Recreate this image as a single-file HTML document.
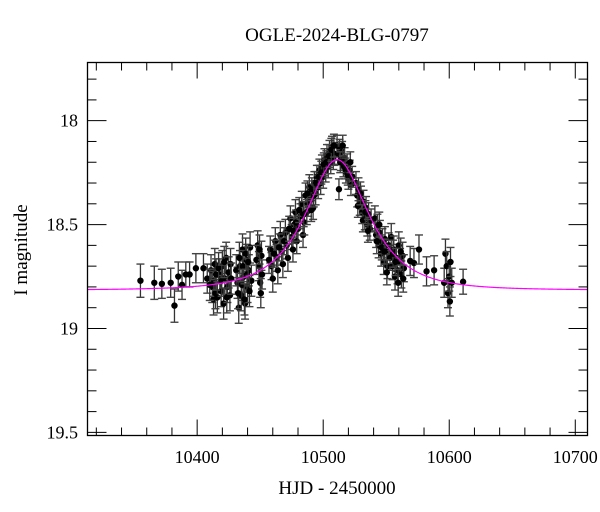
<!DOCTYPE html>
<html><head><meta charset="utf-8"><style>
html,body{margin:0;padding:0;background:#fff;}
svg{display:block;font-family:"Liberation Serif",serif;}
</style></head><body>
<svg id="chart" width="600" height="512" viewBox="0 0 600 512">
<text x="337" y="41" font-size="19" text-anchor="middle">OGLE-2024-BLG-0797</text>
<g id="plot"></g>
<text x="337" y="494" font-size="19" text-anchor="middle">HJD - 2450000</text>
<text x="0" y="0" font-size="19" text-anchor="middle" transform="translate(27,250) rotate(-90)">I magnitude</text>
</svg>
<script>
const times = [
10355,10366,10372,10379,10382,10385,10388,10391,10394,10399,10405,10408,
10411,10412,10413,10413.5,10414,10414.5,
10418,10419,10420,10421,10422,10423,10424,10425,10426,10426.5,
10432,10433,10434,10435,10436,10437,10438,10439,10440,10441,10442,10443,
10448,10449,10450,10451,10450.5,
10458,10459,10460,10462,10463,10464,10466,10467,10468,10470,10471,10472,
10474,10475,10476,10477,10478,10479,10480,10482,10483,10484,10485,10486,10487,10488,10489,
10490,10491,10492,10493,10494,10495,10496,10497,10498,10499,10500,10501,10502,10503,10504,10505,10506,10507,10508,10509,
10511,10512,10512.5,10513,10514,10515,10516,10517,10518,10519,10520,10521,10522,10523,
10526,10527,10528,10529,10530,10531,10532,10533,10534,10535,10536,10537,10538,
10541,10542,10543,10544,10545,10546,10547,10548,10549,10550,10551,10552,10553,
10554,10555,10556,10557,10558,10559,10560,10561,10562,10563,10564,
10569,10572,10576,10582,10588,
10596,10597,10598,10599,10600,10600.5,10601,10602,
10611,
10410,10415,10416,10417,10419.5,10421.5,10423.5,10427,10431,10432.5,
10433.5,10435.5,10436.5,10437.5,10438.5,10439.5,10440.5,10441.5,10447,10449.5,
10451.5,10457,10461,10465,10469,10473,10476.5,10478.5,10481,10484.5,
10487.5,10490.5,10492.5,10494.5,10496.5,10498.5,10500.5,10502.5,10504.5,10506.5,
10508.5,10513.5,10515.5,10517.5,10519.5,10521.5,10527.5,10529.5,10531.5,10533.5,
10535.5,10542.5,10544.5,10546.5,10548.5,10550.5,10555.5,10557.5,10559.5,10561.5,
10563.5];
const mags = [
18.77,18.78,18.785,18.78,18.89,18.75,18.79,18.74,18.74,18.71,18.71,18.76,
18.72,18.80,18.86,18.77,18.69,18.83,
18.74,18.82,18.70,18.88,18.76,18.66,18.80,18.73,18.84,18.69,
18.78,18.90,18.70,18.84,18.62,18.75,18.88,18.67,18.80,18.72,18.61,18.77,
18.60,18.70,18.78,18.65,18.83,
18.62,18.70,18.76,18.58,18.66,18.72,18.55,18.63,18.69,18.54,18.60,18.66,
18.47,18.56,18.62,18.50,18.44,18.58,18.52,18.46,18.40,18.55,18.49,18.36,18.44,18.40,18.32,
18.38,18.33,18.42,18.30,18.35,18.27,18.32,18.24,18.30,18.22,18.27,18.19,18.24,18.17,18.22,18.15,18.20,18.13,18.18,18.16,
18.12,18.16,18.33,18.14,18.19,18.15,18.22,18.18,18.25,18.21,18.28,18.24,18.31,18.27,
18.30,18.36,18.33,18.40,18.37,18.44,18.39,18.47,18.42,18.50,18.45,18.52,18.48,
18.47,18.55,18.51,18.60,18.54,18.64,18.58,18.68,18.57,18.63,18.70,18.60,18.66,
18.56,18.70,18.62,18.75,18.66,18.72,18.60,18.68,18.74,18.65,18.71,
18.675,18.685,18.62,18.725,18.72,
18.78,18.64,18.70,18.83,18.75,18.87,18.68,18.78,
18.775,
18.79,18.74,18.85,18.71,18.77,18.68,18.85,18.76,18.72,18.83,
18.66,18.79,18.70,18.86,18.64,18.74,18.68,18.82,18.67,18.62,
18.74,18.67,18.64,18.61,18.58,18.52,18.53,18.49,18.43,18.45,
18.35,18.43,18.36,18.30,18.27,18.25,18.21,18.20,18.17,18.14,
18.12,18.20,18.12,18.23,18.26,18.20,18.41,18.35,18.48,18.44,
18.53,18.58,18.50,18.61,18.63,18.73,18.64,18.68,18.78,18.63,
18.76];
const errs = [
0.08,0.08,0.07,0.07,0.08,0.07,0.07,0.06,0.06,0.07,0.07,0.07,
0.075,0.075,0.075,0.075,0.075,0.075,
0.075,0.075,0.075,0.075,0.075,0.075,0.075,0.075,0.075,0.075,
0.075,0.075,0.075,0.075,0.075,0.075,0.075,0.075,0.075,0.075,0.075,0.075,
0.07,0.07,0.07,0.07,0.07,
0.065,0.065,0.065,0.065,0.065,0.065,0.065,0.065,0.065,0.065,0.065,0.065,
0.06,0.06,0.06,0.06,0.06,0.06,0.06,0.06,0.06,0.06,0.06,0.06,0.06,0.06,0.06,
0.055,0.055,0.055,0.055,0.055,0.055,0.055,0.055,0.055,0.055,0.055,0.055,0.055,0.055,0.055,0.055,0.055,0.055,0.055,0.055,
0.05,0.05,0.05,0.05,0.05,0.05,0.05,0.05,0.05,0.05,0.05,0.05,0.05,0.05,
0.055,0.055,0.055,0.055,0.055,0.055,0.055,0.055,0.055,0.055,0.055,0.055,0.055,
0.06,0.06,0.06,0.06,0.06,0.06,0.06,0.06,0.06,0.06,0.06,0.06,0.06,
0.065,0.065,0.065,0.065,0.065,0.065,0.065,0.065,0.065,0.065,0.065,
0.07,0.07,0.07,0.07,0.07,
0.07,0.07,0.07,0.07,0.07,0.07,0.07,0.07,
0.06,
0.075,0.075,0.075,0.075,0.075,0.075,0.075,0.075,0.075,0.075,
0.075,0.075,0.075,0.075,0.075,0.075,0.075,0.075,0.07,0.07,
0.07,0.065,0.065,0.065,0.065,0.06,0.06,0.06,0.06,0.06,
0.06,0.055,0.055,0.055,0.055,0.055,0.055,0.055,0.055,0.055,
0.055,0.05,0.05,0.05,0.05,0.05,0.055,0.055,0.055,0.055,
0.055,0.06,0.06,0.06,0.06,0.06,0.065,0.065,0.065,0.065,
0.065];
const xTickLabels = [10400,10500,10600,10700];
const yTickLabels = ["18","18.5","19","19.5"];
const yTickValues = [18,18.5,19,19.5];
const modelT0 = 10511, modelU0 = 0.645, modelTE = 38, modelBase = 18.815;

const L=87.5,R=587.5,T=62.5,B=435.5;
const xMin=10313,xMax=10709.7,yMin=17.72,yMax=19.515;
function sx(t){return L+(t-xMin)/(xMax-xMin)*(R-L);}
function sy(m){return T+(m-yMin)/(yMax-yMin)*(B-T);}
const NS="http://www.w3.org/2000/svg";
const plot=document.getElementById('plot');
function mk(tag,attrs,parent){const e=document.createElementNS(NS,tag);for(const k in attrs)e.setAttribute(k,attrs[k]);(parent||plot).appendChild(e);return e;}

const defs=mk('defs',{});
const cp=mk('clipPath',{id:'clip'},defs);
mk('rect',{x:L,y:T,width:R-L,height:B-T},cp);

// data points
const pts=mk('g',{});


const n=Math.min(times.length,mags.length);
for(let i=0;i<n;i++){
  const x=sx(times[i]),y=sy(mags[i]),e=errs[i]!==undefined?errs[i]:0.06;
  const y1=sy(mags[i]-e),y2=sy(mags[i]+e);
  const g=mk('g',{},pts);
  
  
  mk('line',{x1:x,y1:y1,x2:x,y2:y2,stroke:'#333','stroke-width':1.3},g);
  mk('line',{x1:x-4,y1:y1,x2:x+4,y2:y1,stroke:'#444','stroke-width':1.4},g);
  mk('line',{x1:x-4,y1:y2,x2:x+4,y2:y2,stroke:'#444','stroke-width':1.4},g);
  mk('circle',{cx:x,cy:y,r:3.2,fill:'#000'},g);
}

// model curve
let d="";
for(let px=L;px<=R;px+=1){
  const t=xMin+(px-L)/(R-L)*(xMax-xMin);
  const tau=(t-modelT0)/modelTE;
  const u=Math.sqrt(modelU0*modelU0+tau*tau);
  const A=(u*u+2)/(u*Math.sqrt(u*u+4));
  const m=modelBase-2.5*Math.log10(A);
  d+=(d?"L":"M")+px.toFixed(1)+","+sy(m).toFixed(2);
}
const curve=mk('path',{d:d,fill:'none',stroke:'#ff00ff','stroke-width':1.2,'clip-path':'url(#clip)'});



const frame=mk('rect',{x:L,y:T,width:R-L,height:B-T,fill:'none',stroke:'#000','stroke-width':1.3});



const xt=mk('g',{stroke:'#000','stroke-width':1});


for(let v=10320;v<=10700;v+=20){
  const x=sx(v);const major=(v%100===0);const len=major?16:8;
  mk('line',{x1:x,y1:B,x2:x,y2:B-len},xt);
  mk('line',{x1:x,y1:T,x2:x,y2:T+len},xt);
}
xTickLabels.forEach(v=>{
  const t=mk('text',{x:sx(v),y:463,'font-size':18,'text-anchor':'middle'});
  t.textContent=v;
  
  
});
const yt=mk('g',{stroke:'#000','stroke-width':1});


for(let k=18;k<=195;k++){
  const v=k/10; if(v<yMin||v>yMax) continue;
  const y=sy(v);const major=(k%5===0);const len=major?19:9;
  mk('line',{x1:L,y1:y,x2:L+len,y2:y},yt);
  mk('line',{x1:R,y1:y,x2:R-len,y2:y},yt);
}
yTickLabels.forEach((s,i)=>{
  const t=mk('text',{x:78,y:sy(yTickValues[i])+6,'font-size':18,'text-anchor':'end'});
  t.textContent=s;
  
  
});
</script>
</body></html>
